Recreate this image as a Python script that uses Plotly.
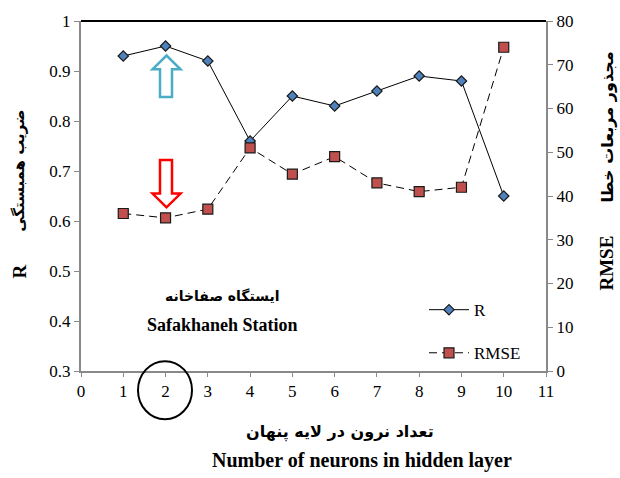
import plotly.graph_objects as go

neurons = [1, 2, 3, 4, 5, 6, 7, 8, 9, 10]
r_values = [0.93, 0.95, 0.92, 0.76, 0.85, 0.83, 0.86, 0.89, 0.88, 0.65]
rmse_values = [36, 35, 37, 51, 45, 49, 43, 41, 42, 74]
x_ticks = list(range(0, 12))
r_ticks = [0.3, 0.4, 0.5, 0.6, 0.7, 0.8, 0.9, 1.0]
r_tick_text = ["0.3", "0.4", "0.5", "0.6", "0.7", "0.8", "0.9", "1"]
rmse_ticks = [0, 10, 20, 30, 40, 50, 60, 70, 80]

W, H = 620, 478
L, R_, T, B = 81, 74, 16, 107
PW, PH = W - L - R_, H - T - B

def px(x):
    return (x - L) / PW

def py(y):
    return (H - B - y) / PH

SERIF = "'Times New Roman', 'Liberation Serif', serif"
ARAB = "DejaVu Sans"
GREY = "#898989"

fig = go.Figure()
fig.add_trace(go.Scatter(
    x=neurons, y=r_values, name="R", mode="lines+markers",
    line=dict(color="black", width=1),
    marker=dict(symbol="diamond", size=8, color="#4F81BD", line=dict(color="#1a1a1a", width=1.2)),
    legendgroup="a"))
fig.add_trace(go.Scatter(
    x=neurons, y=rmse_values, name="RMSE", mode="lines+markers", yaxis="y2",
    line=dict(color="black", width=1, dash="8px,5px"),
    marker=dict(symbol="square", size=10, color="#C0504D", line=dict(color="#1a1a1a", width=1.2)),
    legendgroup="b"))

fig.update_layout(
    width=W, height=H,
    margin=dict(l=L, r=R_, t=T, b=B, pad=0),
    paper_bgcolor="white", plot_bgcolor="white",
    font=dict(family=SERIF, size=17, color="black"),
    showlegend=True,
    legend=dict(x=px(424), y=py(291), xanchor="left", yanchor="top",
                bgcolor="rgba(0,0,0,0)", font=dict(family=SERIF, size=17),
                tracegroupgap=18, itemwidth=40),
    xaxis=dict(range=[0, 11], tickvals=x_ticks, showgrid=False, zeroline=False,
               showline=True, linecolor=GREY, linewidth=2, ticks="outside",
               tickcolor=GREY, ticklen=4, tickfont=dict(family=SERIF, size=17)),
    yaxis=dict(range=[0.3, 1.0], tickvals=r_ticks, ticktext=r_tick_text, showgrid=False,
               zeroline=False, showline=True, linecolor=GREY, linewidth=2, ticks="outside",
               tickcolor=GREY, ticklen=5, tickfont=dict(family=SERIF, size=17)),
    yaxis2=dict(range=[0, 80], tickvals=rmse_ticks, overlaying="y", side="right",
                showgrid=False, zeroline=False, showline=True, linecolor=GREY, linewidth=2,
                ticks="outside", tickcolor=GREY, ticklen=5,
                tickfont=dict(family=SERIF, size=17)),
)

shapes = []
# top border
shapes.append(dict(type="line", xref="paper", yref="paper", x0=0, x1=1, y0=1, y1=1,
                   line=dict(color="black", width=2)))
# blue up arrow (hollow)
up = [(166.5, 51), (180.5, 65), (172, 65), (172, 93), (160, 93), (160, 65), (152.5, 65)]
shapes.append(dict(type="path", xref="paper", yref="paper",
                   path="M" + " L".join(f"{px(a):.4f},{py(b):.4f}" for a, b in up) + " Z",
                   line=dict(color="#4BACC6", width=2.5), fillcolor="rgba(0,0,0,0)"))
# red down arrow (hollow)
dn = [(160, 157), (172, 157), (172, 191), (180.5, 191), (166.5, 205), (152.5, 191), (160, 191)]
shapes.append(dict(type="path", xref="paper", yref="paper",
                   path="M" + " L".join(f"{px(a):.4f},{py(b):.4f}" for a, b in dn) + " Z",
                   line=dict(color="#FF0000", width=2.5), fillcolor="rgba(0,0,0,0)"))
# ellipse around tick 2
shapes.append(dict(type="circle", xref="paper", yref="paper",
                   x0=px(138), x1=px(192), y0=py(361), y1=py(420),
                   line=dict(color="black", width=2)))
fig.update_layout(shapes=shapes)

ann = []
def text(x, y, s, size, family, bold=True, angle=0):
    ann.append(dict(x=px(x), y=py(y), xref="paper", yref="paper", text=(f"<b>{s}</b>" if bold else s),
                    showarrow=False, xanchor="center", yanchor="middle", textangle=angle,
                    font=dict(family=family, size=size, color="black")))

text(222, 295, "ایستگاه صفاخانه", 14, ARAB)
text(222, 324, "Safakhaneh Station", 18, SERIF)
text(340, 433, "تعداد نرون در لایه پنهان", 16, ARAB)
text(362, 462, "Number of neurons in hidden layer", 20, SERIF)
text(19, 270, "R", 19, SERIF, angle=-90)
text(19, 168, "ضریب همبستگی", 15, ARAB, angle=-90)
text(607, 262, "RMSE", 19, SERIF, angle=-90)
text(607, 124, "مجذور مربعات خطا", 16, ARAB, angle=-90)
fig.update_layout(annotations=ann)

fig.write_html("out.html")
